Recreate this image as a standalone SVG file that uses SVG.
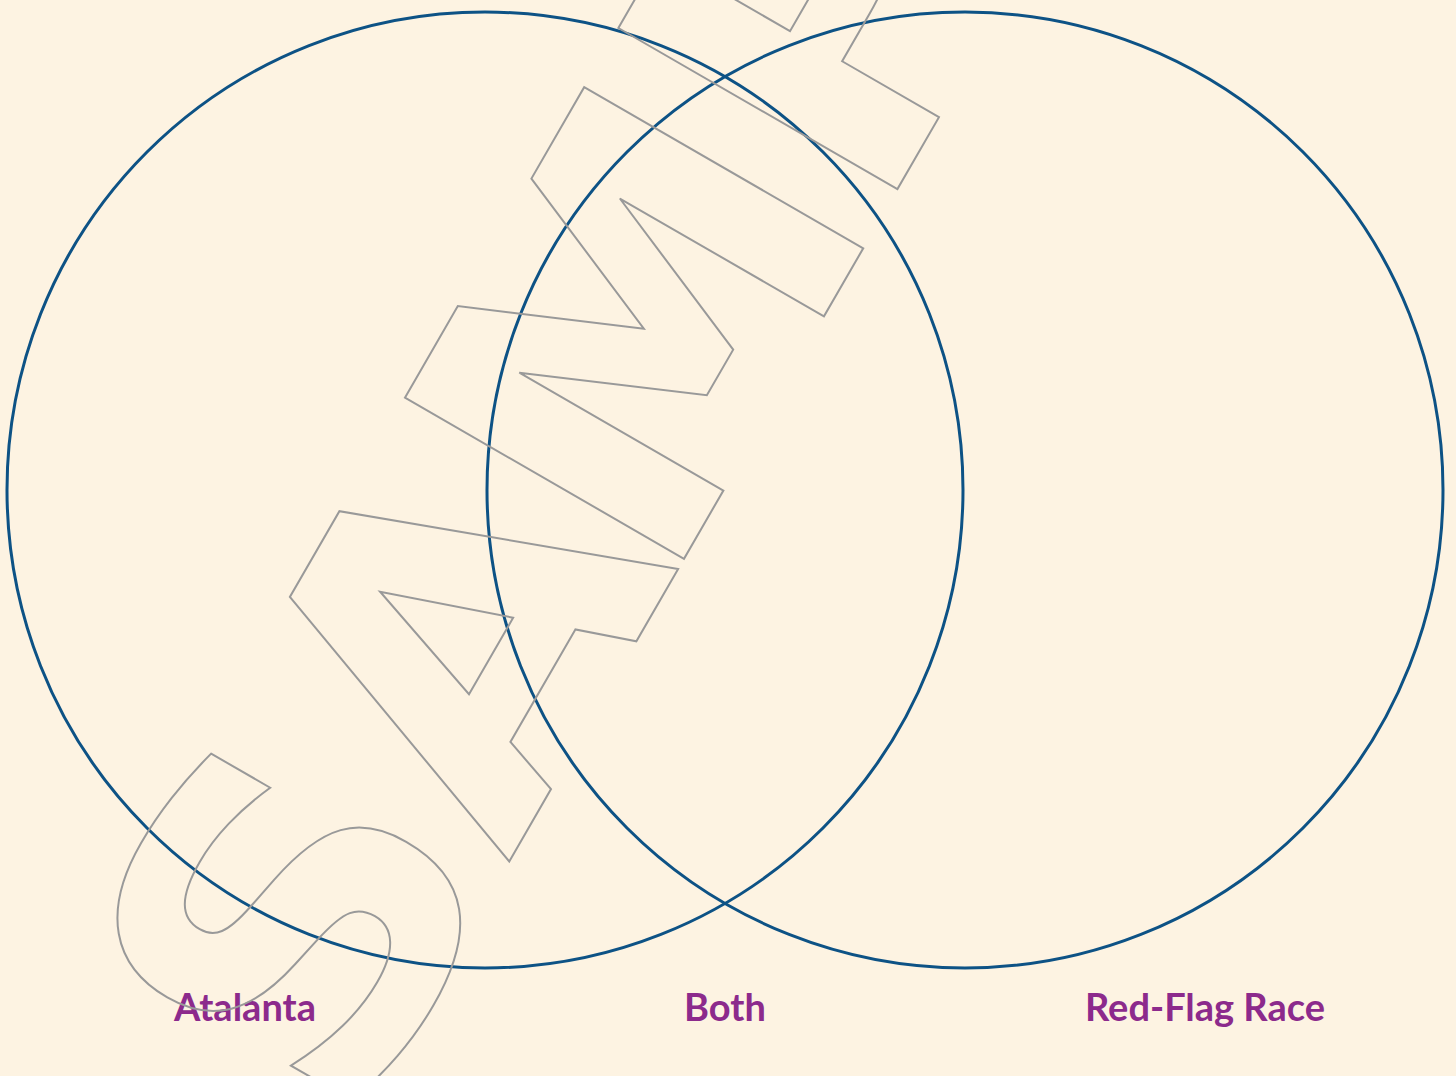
<svg xmlns="http://www.w3.org/2000/svg" width="1456" height="1076" viewBox="0 0 1456 1076">
<style>
.set{fill:none;stroke:#0d5285;stroke-width:3}
.lbl{font-family:Lato,"Open Sans",sans-serif;font-weight:bold;font-size:38px;fill:#8c2a8c;text-anchor:middle}
.wm{font-family:"DejaVu Sans",sans-serif;font-weight:bold;font-size:442px;fill:none;stroke:#999999;stroke-width:2}
</style>
<rect width="1456" height="1076" fill="#fdf3e2"/>
<g id="connectors"></g>
<g id="set-atalanta"><circle class="set" cx="485" cy="490" r="478"/><text class="lbl" x="245" y="1021">Atalanta</text></g>
<g id="set-redflag"><circle class="set" cx="965" cy="490" r="478"/><text class="lbl" x="1205" y="1021">Red-Flag Race</text></g>
<g id="both"><text class="lbl" x="725" y="1021">Both</text></g>
<g id="watermark"><text class="wm" transform="translate(349,1139) rotate(-60)" dx="0 0 -31 -13">SAMPLE</text></g>
</svg>
